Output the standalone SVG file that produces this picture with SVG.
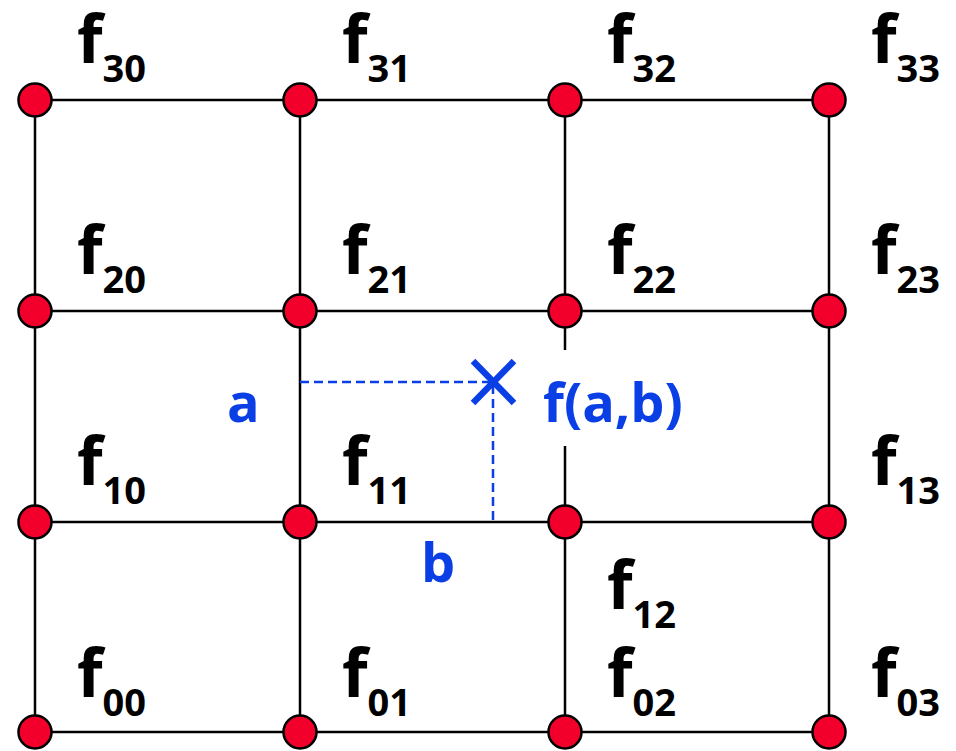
<svg xmlns="http://www.w3.org/2000/svg" width="956" height="751" viewBox="0 0 956 751">
<style>
.g{stroke:#000;stroke-width:2.5;fill:none}
.n{fill:#f2002b;stroke:#000;stroke-width:2.5}
.f{font-family:"Open Sans",sans-serif;font-weight:bold;fill:#000;font-size:66px}
.s{font-size:38px}
.b{font-family:"Open Sans",sans-serif;font-weight:bold;fill:#0a3fe6;font-size:54px}
.d{stroke:#0a3fe6;stroke-width:2.5;stroke-dasharray:9 5;fill:none}
</style>
<rect width="956" height="751" fill="#fff"/>
<g id="connectors">
<path class="g" d="M35,100H829M35,311H829M35,522H829M35,732H829M35,100V732M300,100V732M829,100V732M565,100V350M565,446V732"/>
<path class="d" d="M300,382H493V522"/>
<path d="M473,361L514,403M514,361L473,403" stroke="#0a3fe6" stroke-width="6.5"/>
</g>
<g id="nodes">
<g id="n30"><circle class="n" cx="35" cy="100" r="16.5"/><text class="f" x="77" y="63">f<tspan class="s" dy="19">30</tspan></text></g>
<g id="n31"><circle class="n" cx="300" cy="100" r="16.5"/><text class="f" x="342" y="63">f<tspan class="s" dy="19">31</tspan></text></g>
<g id="n32"><circle class="n" cx="565" cy="100" r="16.5"/><text class="f" x="607" y="63">f<tspan class="s" dy="19">32</tspan></text></g>
<g id="n33"><circle class="n" cx="829" cy="100" r="16.5"/><text class="f" x="871" y="63">f<tspan class="s" dy="19">33</tspan></text></g>
<g id="n20"><circle class="n" cx="35" cy="311" r="16.5"/><text class="f" x="77" y="274">f<tspan class="s" dy="19">20</tspan></text></g>
<g id="n21"><circle class="n" cx="300" cy="311" r="16.5"/><text class="f" x="342" y="274">f<tspan class="s" dy="19">21</tspan></text></g>
<g id="n22"><circle class="n" cx="565" cy="311" r="16.5"/><text class="f" x="607" y="274">f<tspan class="s" dy="19">22</tspan></text></g>
<g id="n23"><circle class="n" cx="829" cy="311" r="16.5"/><text class="f" x="871" y="274">f<tspan class="s" dy="19">23</tspan></text></g>
<g id="n10"><circle class="n" cx="35" cy="522" r="16.5"/><text class="f" x="77" y="485">f<tspan class="s" dy="19">10</tspan></text></g>
<g id="n11"><circle class="n" cx="300" cy="522" r="16.5"/><text class="f" x="342" y="485">f<tspan class="s" dy="19">11</tspan></text></g>
<g id="n12"><circle class="n" cx="565" cy="522" r="16.5"/><text class="f" x="607" y="609">f<tspan class="s" dy="19">12</tspan></text></g>
<g id="n13"><circle class="n" cx="829" cy="522" r="16.5"/><text class="f" x="871" y="485">f<tspan class="s" dy="19">13</tspan></text></g>
<g id="n00"><circle class="n" cx="35" cy="732" r="16.5"/><text class="f" x="77" y="697">f<tspan class="s" dy="19">00</tspan></text></g>
<g id="n01"><circle class="n" cx="300" cy="732" r="16.5"/><text class="f" x="342" y="697">f<tspan class="s" dy="19">01</tspan></text></g>
<g id="n02"><circle class="n" cx="565" cy="732" r="16.5"/><text class="f" x="607" y="697">f<tspan class="s" dy="19">02</tspan></text></g>
<g id="n03"><circle class="n" cx="829" cy="732" r="16.5"/><text class="f" x="871" y="697">f<tspan class="s" dy="19">03</tspan></text></g>
<g id="point"><text class="b" x="543" y="422">f(a,b)</text><text class="b" x="227" y="422">a</text><text class="b" x="421" y="582">b</text></g>
</g>
</svg>
